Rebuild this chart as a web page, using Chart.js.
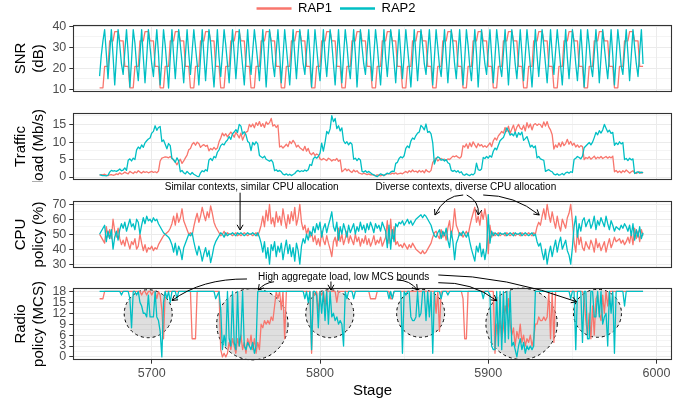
<!DOCTYPE html>
<html>
<head>
<meta charset="utf-8">
<script src="https://cdn.jsdelivr.net/npm/chart.js@4.4.1/dist/chart.umd.min.js"></script>
<style>
  html, body { margin: 0; padding: 0; background: #fff; }
  #wrap { position: relative; width: 689px; height: 404px; overflow: hidden; }
  #wrap canvas { position: absolute; left: 0; }
</style>
</head>
<body>
<div id="wrap">
  <canvas id="snrChart" width="689" height="100" style="top:-6px"></canvas>
  <canvas id="trafficChart" width="689" height="88" style="top:94px"></canvas>
  <canvas id="cpuChart" width="689" height="88" style="top:182px"></canvas>
  <canvas id="mcsChart" width="689" height="134" style="top:270px"></canvas>
</div>
<script>
const firstStage = 5669;

// SNR (dB), one value per stage
const snrRap1 = [
  10.6,10.6,10.6,20.8,20.8,20.8,33,33,33,37.4,37.4,37.4,33,33,33,20.8,20.8,20.8,
  10.6,10.6,10.6,20.8,20.8,20.8,33,33,33,37.4,37.4,37.4,33,33,33,20.8,20.8,20.8,
  10.6,10.6,10.6,20.8,20.8,20.8,33,33,33,37.4,37.4,37.4,33,33,33,20.8,20.8,20.8,
  10.6,10.6,10.6,20.8,20.8,20.8,33,33,33,37.4,37.4,37.4,33,33,33,20.8,20.8,20.8,
  10.6,10.6,10.6,20.8,20.8,20.8,33,33,33,37.4,37.4,37.4,33,33,33,20.8,20.8,20.8,
  10.6,10.6,10.6,20.8,20.8,20.8,33,33,33,37.4,37.4,37.4,33,33,33,20.8,20.8,20.8,
  10.6,10.6,10.6,20.8,20.8,20.8,33,33,33,37.4,37.4,37.4,33,33,33,20.8,20.8,20.8,
  10.6,10.6,10.6,20.8,20.8,20.8,33,33,33,37.4,37.4,37.4,33,33,33,20.8,20.8,20.8,
  10.6,10.6,10.6,20.8,20.8,20.8,33,33,33,37.4,37.4,37.4,33,33,33,20.8,20.8,20.8,
  10.6,10.6,10.6,20.8,20.8,20.8,33,33,33,37.4,37.4,37.4,33,33,33,20.8,20.8,20.8,
  10.6,10.6,10.6,20.8,20.8,20.8,33,33,33,37.4,37.4,37.4,33,33,33,20.8,20.8,20.8,
  10.6,10.6,10.6,20.8,20.8,20.8,33,33,33,37.4,37.4,37.4,33,33,33,20.8,20.8,20.8,
  10.6,10.6,10.6,20.8,20.8,20.8,33,33,33,37.4,37.4,37.4,33,33,33,20.8,20.8,20.8,
  10.6,10.6,10.6,20.8,20.8,20.8,33,33,33,37.4,37.4,37.4,33,33,33,20.8,20.8,20.8,
  10.6,10.6,10.6,20.8,20.8,20.8,33,33,33,37.4,37.4,37.4,33,33,33,20.8,20.8,20.8,
  10.6,10.6,10.6,20.8,20.8,20.8,33,33,33,37.4,37.4,37.4,33,33,33,20.8,20.8,20.8,
  10.6,10.6,10.6,20.8,20.8,20.8,33,33,33,37.4,37.4,37.4,33,33,33,20.8,20.8,20.8,
  10.6,10.6,10.6,20.8,20.8,20.8,33,33,33,37.4,37.4,37.4,33,33,33,20.8,20.8,20.8
];
const snrRap2 = [
  16.2,26,33,38.4,27, 15,27,38.4,26,
  12,25,38.4,31,22, 17,28,38.4,27,
  11,24,38.4,32,21, 14,26,38.4,25,
  13,25,38.4,30,22, 16,28,38.4,27,
  12,24,38.4,31,21, 10.5,25,38.4,26,
  15,27,38.4,31,23, 13,26,38.4,27,
  17,28,38.4,30,22, 12,25,38.4,26,
  14,26,38.4,32,21, 11,24,38.4,25,
  16,27,38.4,31,22, 13,26,38.4,27,
  15,26,38.4,30,21, 12,25,38.4,26,
  17,28,38.4,31,23, 14,26,38.4,25,
  11,24,38.4,32,22, 16,28,38.4,27,
  13,25,38.4,30,21, 12,25,38.4,26,
  15,27,38.4,31,22, 17,28,38.4,27,
  11,24,38.4,30,21, 14,26,38.4,25,
  16,27,38.4,32,22, 12,25,38.4,26,
  13,26,38.4,31,21, 15,27,38.4,27,
  11,24,38.4,30,22, 17,28,38.4,26,
  14,26,38.4,31,21, 12,25,38.4,25,
  16,27,38.4,32,23, 13,26,38.4,27,
  15,26,38.4,30,21, 11,24,38.4,26,
  14,26,38.4,31,22, 17,28,38.4,27,
  12,25,38.4,30,21, 16,27,38.4,25,
  13,25,38.4,32,22, 15,27,38.4,26,
  12,24,38.4,31,21, 14,26,38.4,27,
  11,24,38.4,30,22, 17,28,38.4,26,
  13,25,38.4,31,21, 16,27,38.4,25,
  12,25,38.4,32,22, 15,26,38.4,27,
  14,26,38.4,30,21, 11,24,38.4,26,
  16,27,38.4,31,22, 13,25,38.4,27,
  17,28,38.4,30,21, 12,25,38.4,25,
  15,26,38.4,32,22, 14,26,38.4,26,
  11,24,38.4,31,21, 16,27,38.4,27,
  13,25,38.4,30,22, 15,26,38.4,26,
  12,25,38.4,31,21, 17,28,38.4,27,
  14,26,38.4,30,22, 16,28,38.4,22
];

// Traffic load (Mb/s)
const trafficRap1 = [
  0.5,0.7,0.6,0.8,0.5,0.4,0.6,0.7,0.5,0.6,
  0.9,0.7,1.2,0.8,1.0,1.4,1.1,0.9,1.6,1.3,
  1.0,1.5,1.2,1.8,1.4,1.1,1.6,1.3,1.5,1.2,
  1.4,1.6,1.3,1.5,1.2,1.7,4.6,5.4,5.6,5.8,
  5.7,5.5,5.9,5.4,4.8,4.3,3.5,4.4,5.1,3.9,
  4.6,5.5,6.3,7.8,8.2,9.4,9.9,9.1,10.0,9.6,
  8.5,9.0,9.3,8.8,9.1,7.5,8.2,7.8,8.5,7.9,
  8.3,10.1,11.2,12.6,11.8,12.4,11.5,12.2,12.9,12.3,
  11.4,12.8,12.1,11.2,12.6,10.6,11.8,12.9,13.1,15.1,
  14.4,15.2,14.1,15.6,14.8,15.9,14.5,15.3,14.2,15.8,
  15.1,15.6,16.8,14.6,15.0,14.2,14.9,8.6,8.9,8.3,
  8.8,9.4,8.7,10.2,9.6,10.5,9.8,8.6,9.1,8.4,
  8.0,7.6,8.8,7.4,8.2,6.8,6.4,7.0,6.2,6.6,
  6.3,5.2,4.9,5.3,5.0,4.7,5.4,5.1,4.6,5.0,
  4.8,5.3,4.5,4.9,1.5,1.9,2.4,1.8,2.2,1.6,
  1.3,2.0,1.5,1.8,1.2,1.0,0.8,1.1,0.9,0.7,
  0.9,0.6,0.7,0.5,0.4,0.6,0.5,0.3,0.6,0.4,
  0.7,0.9,1.0,0.8,1.1,0.9,1.2,0.8,1.0,1.1,
  0.9,1.3,1.6,1.2,1.8,1.4,2.0,1.5,1.7,1.3,
  1.9,1.4,1.8,1.2,2.1,1.6,1.4,1.9,4.2,4.8,
  5.5,4.6,5.0,5.3,4.9,5.1,4.7,5.2,5.0,5.5,
  6.0,5.8,6.1,5.7,5.4,5.9,9.0,8.6,9.5,8.2,
  9.8,8.7,10.1,9.2,8.4,9.6,8.9,9.3,8.6,9.0,
  8.5,9.1,9.8,8.7,10.4,11.2,10.6,11.8,12.4,13.1,
  12.6,14.2,13.0,14.6,12.5,13.8,14.9,12.9,14.3,15.1,
  14.0,13.6,14.8,13.2,15.6,14.1,15.2,13.5,15.0,15.3,
  14.8,15.2,15.0,14.2,15.8,14.6,15.9,14.3,13.5,12.1,
  8.0,9.2,8.5,9.8,8.7,10.1,9.0,9.6,10.8,9.4,
  10.2,9.1,9.7,8.6,9.2,8.5,9.0,8.7,5.0,5.6,
  5.3,5.8,5.1,5.5,6.0,5.2,5.7,5.4,5.9,5.3,
  5.6,5.9,5.4,5.8,5.5,6.0,1.5,1.9,1.3,1.7,
  1.2,1.8,1.4,2.0,1.6,1.1,1.5,1.8,1.2,1.0,
  1.3,1.5,1.1,1.4
];
const trafficRap2 = [
  0.7,0.5,0.4,0.4,0.3,0.5,1.4,1.9,1.7,1.8,
  1.6,1.9,2.3,1.8,2.0,2.6,1.9,4.8,5.2,4.6,
  5.4,5.0,7.8,8.6,8.1,9.2,8.5,9.8,10.4,10.9,
  11.2,12.6,13.1,14.7,13.4,14.2,14.5,10.2,10.6,9.4,
  8.1,9.6,9.0,5.3,5.0,4.2,5.5,4.6,1.5,1.9,
  1.2,0.9,1.6,1.1,0.7,1.3,0.8,0.5,0.2,0.1,
  1.2,1.8,1.5,2.1,1.7,4.9,5.3,4.7,5.9,5.5,
  7.1,7.8,9.0,9.5,9.2,10.1,10.6,11.6,10.8,12.4,
  12.9,13.6,12.8,15.1,14.6,12.3,13.0,12.1,10.2,9.8,
  7.6,9.9,9.2,10.1,9.5,6.2,5.8,5.5,6.0,5.1,
  4.8,4.5,4.9,4.2,1.8,2.1,1.6,1.9,1.5,0.8,
  0.6,0.9,0.5,0.8,0.4,0.7,1.0,1.6,1.9,1.5,
  1.8,1.6,2.0,1.7,2.1,3.6,3.3,5.2,5.8,5.4,
  5.9,6.8,9.7,7.4,9.9,13.1,12.4,13.8,17.6,15.9,
  16.8,13.9,14.7,13.2,14.1,10.4,9.6,10.1,9.2,9.9,
  9.4,5.1,5.4,4.7,5.3,4.9,1.6,1.4,1.8,1.3,
  1.6,1.2,0.8,0.6,0.3,0.1,0.5,0.9,0.7,0.4,
  0.8,1.1,0.9,1.4,1.7,1.5,3.9,4.2,5.3,5.8,
  5.5,6.1,8.2,8.9,8.4,10.3,11.2,10.8,11.9,12.6,
  12.9,14.8,14.3,13.5,15.2,12.8,13.1,12.4,9.8,3.7,
  5.2,5.8,5.5,4.8,5.1,4.6,5.0,4.1,3.8,1.9,
  1.6,1.9,1.4,1.8,1.2,1.5,0.7,0.5,0.9,0.6,
  0.4,0.8,0.6,1.1,4.0,2.1,1.9,2.3,5.6,5.3,
  5.9,5.4,6.1,5.7,7.4,8.3,7.8,9.1,10.4,10.9,
  11.3,12.6,14.1,13.2,12.0,12.4,11.8,12.9,11.4,12.7,
  12.1,12.9,10.5,11.0,11.6,10.2,8.6,9.1,8.4,8.9,
  5.5,5.9,5.2,5.0,4.8,1.6,1.9,2.1,1.7,1.5,
  0.8,0.6,0.9,0.5,0.7,1.0,0.6,1.2,1.4,1.1,
  1.5,1.3,5.0,5.4,5.9,5.6,5.2,6.0,8.4,8.9,
  9.4,9.9,9.2,10.0,11.3,12.8,12.1,13.3,12.6,13.5,
  15.1,14.0,12.9,13.4,12.5,12.8,9.1,9.8,9.3,10.1,
  9.5,9.9,5.0,5.3,4.7,5.4,4.9,5.2,1.0,1.3,
  1.5,1.1,1.4,1.2
];

// CPU policy (%)
const cpuRap1 = [
  50,48,46,44,55,48,53,47,60,52,
  48,54,47,43,46,42,48,44,40,45,
  43,47,40,42,50,44,39,43,38,41,
  40,42,39,41,40,43,45,47,49,50,
  51,52,54,57,62,56,64,58,61,67,
  59,56,53,50,51,49,55,60,64,58,
  62,68,63,59,65,61,69,64,58,55,
  53,51,49,50,52,49,51,50,50,49,
  50,51,49,50,49,50,51,50,49,50,
  50,49,50,51,49,52,56,62,55,66,
  59,70,57,61,55,65,58,62,56,67,
  60,54,63,57,65,59,68,56,61,70,
  58,53,56,50,54,48,51,45,49,43,
  47,42,52,46,43,49,44,40,35,45,
  48,42,54,45,50,43,47,52,44,49,
  46,43,50,45,48,42,47,44,49,43,
  47,42,45,49,43,46,44,48,42,45,
  48,59,44,60,47,55,43,45,42,43,
  41,44,42,40,43,41,44,42,40,39,
  38,37,39,37,38,40,42,44,48,51,
  52,49,47,53,48,51,46,54,59,48,
  55,67,56,53,49,51,48,50,52,49,
  55,60,64,68,58,62,56,65,60,67,
  60,37,56,48,51,49,50,51,49,50,
  50,49,51,50,49,50,51,49,50,50,
  49,51,50,49,50,51,50,49,51,50,
  55,58,56,62,67,60,70,63,58,65,
  59,54,62,56,52,60,57,54,61,64,
  70,59,45,38,52,43,48,41,39,45,
  42,40,46,43,38,47,41,44,39,42,
  45,38,43,47,41,44,48,45,46,47,
  44,46,43,45,48,44,51,43,54,47,
  52,45,53,49
];
const cpuRap2 = [
  50,52,54,56,45,52,47,53,40,48,
  52,46,53,57,54,58,52,56,60,55,
  57,53,60,58,50,56,61,57,62,59,
  60,58,61,59,60,57,55,53,51,50,
  49,48,46,43,38,44,36,42,39,33,
  41,44,47,50,49,51,45,40,36,42,
  38,32,37,41,35,39,31,36,42,45,
  47,49,51,50,48,51,49,50,50,51,
  50,49,51,50,51,50,49,50,51,50,
  50,51,50,49,51,48,44,38,45,34,
  41,30,43,39,45,35,42,38,44,33,
  40,46,37,43,35,41,32,44,39,30,
  42,47,44,50,46,52,49,55,51,57,
  53,58,48,54,57,51,56,60,65,55,
  52,58,46,55,50,57,53,48,56,51,
  54,57,50,55,52,58,53,56,51,57,
  53,58,55,51,57,54,56,52,58,55,
  52,41,56,40,53,45,57,55,58,57,
  59,56,58,60,57,59,56,58,60,61,
  62,63,61,63,62,60,58,56,52,49,
  48,51,53,47,52,49,54,46,41,52,
  45,33,44,47,51,49,52,50,48,51,
  45,40,36,32,42,38,44,35,40,33,
  40,63,44,52,49,51,50,49,51,50,
  50,51,49,50,51,50,49,51,50,50,
  51,49,50,51,50,49,50,51,49,50,
  45,42,44,38,33,40,30,37,42,35,
  41,46,38,44,48,40,43,46,39,36,
  30,41,55,62,48,57,52,59,61,55,
  58,60,54,57,62,53,59,56,61,58,
  55,62,57,53,59,56,52,55,54,53,
  56,54,57,55,52,56,49,57,46,53,
  48,55,47,51
];

// Radio policy (MCS)
const mcsRap1 = [
  16,16,16,18,18,18,18,18,18,18,
  18,18,18,18,18,18,18,18,18,18,
  18,18,18,18,18,17,18,18,17,18,
  18,17,18,18,16,18,17,13,5,18,
  18,18,18,18,18,18,18,18,18,18,
  18,18,18,18,18,5,5,5,18,18,
  18,18,18,18,18,18,18,18,18,18,
  18,18,2,0,1,0,1,4,2,5,
  3,1,5,3,6,2,4,1,5,3,
  6,2,5,1,4,2,9,8,10,9,
  10,9,11,10,14,18,16,18,13,18,
  5,18,18,18,18,18,18,18,18,18,
  18,18,18,18,18,18,1,18,17,18,
  12,18,17,18,14,18,18,18,18,18,
  18,15,18,18,18,18,18,18,18,18,
  18,18,18,18,18,18,18,18,18,18,
  18,16,16,16,16,18,18,18,18,18,
  18,18,18,16,16,18,18,18,18,18,
  18,18,18,18,18,18,18,18,18,18,
  18,18,18,18,18,18,18,18,18,18,
  12,18,7,18,18,18,18,18,18,18,
  18,18,18,18,18,18,16,5,5,18,
  18,18,18,18,18,18,18,18,18,18,
  18,18,18,18,18,1,9,6,10,5,
  8,14,12,16,9,6,8,3,7,5,
  9,4,6,3,5,4,6,3,5,9,
  9,11,10,10,11,10,11,18,5,18,
  4,18,18,18,18,18,18,18,18,18,
  18,18,18,18,18,18,18,18,16,10,
  6,12,5,14,6,16,17,12,10,17,
  12,18,14,18,18,18,18,18,18,18,
  18,18,18,18,18,18,18,18,18,18,
  18,18,18,18
];
const mcsRap2 = [
  18,18,18,18,18,18,18,18,18,18,
  18,18,18,17,18,18,18,18,16,8,
  18,18,17,18,15,14,12,12,11,17,
  11,11,11,18,11,10,7,0,15,18,
  16,18,15,18,18,18,16,18,18,18,
  18,18,18,18,18,18,18,18,18,18,
  18,18,18,18,18,18,18,18,18,16,
  17,18,13,2,6,3,18,5,3,18,
  4,2,18,3,6,18,3,2,4,3,
  2,4,1,3,18,18,18,18,18,18,
  18,18,18,18,18,18,18,18,18,18,
  18,18,18,18,18,18,18,18,18,18,
  18,18,16,18,15,18,2,18,18,17,
  8,18,12,18,10,18,9,18,11,12,
  10,11,9,10,9,3,18,16,18,18,
  18,16,18,18,18,18,18,18,18,18,
  18,18,18,18,18,18,18,18,18,18,
  18,18,16,18,16,18,18,18,18,18,
  1,18,17,18,18,11,10,10,11,18,
  11,12,18,18,10,18,11,18,1,18,
  18,18,18,16,18,18,18,17,18,18,
  18,18,18,18,18,18,18,18,18,18,
  18,18,18,18,18,18,18,18,16,18,
  18,18,17,3,2,2,18,3,18,2,
  18,4,18,5,18,3,4,2,0,3,
  5,2,4,1,3,2,3,2,3,18,
  18,18,18,18,18,18,18,18,18,18,
  18,18,18,18,18,18,18,18,18,18,
  16,18,18,2,18,18,18,4,18,18,
  5,5,18,18,11,11,18,11,18,9,
  11,12,3,18,12,18,1,18,18,18,
  18,18,14,18,18,18,18,18,18,18,
  18,18,18,18
];

const stages = snrRap1.map((_, i) => firstStage + i);

// annotations, in the data units of the panel that draws them
const cpuNotes = {
  texts: [
    { x: 5759.4, y: 81.36, text: 'Similar contexts, similar CPU allocation' },
    { x: 5886.7, y: 81.36, text: 'Diverse contexts, diverse CPU allocation' }
  ],
  arrows: [
    { from: [5752.5, 77.75], to: [5752.5, 52.81] },
    { from: [5885.1, 76.21], ctrl: [5874.2, 76.21], to: [5868.3, 62.84] },
    { from: [5887.2, 76.21], ctrl: [5894.8, 72.2], to: [5894.1, 62.84] },
    { from: [5897.0, 76.21], ctrl: [5915.7, 76.21], to: [5930.3, 62.84] }
  ],
  circles: []
};
const mcsNotes = {
  texts: [{ x: 5814.1, y: 21.89, text: 'High aggregate load, low MCS bounds' }],
  arrows: [
    { from: [5756.6, 21.43], ctrl: [5729.6, 21.56], to: [5712.1, 15.51] },
    { from: [5772.7, 20.68], ctrl: [5766.7, 20.33], to: [5763.3, 18.40] },
    { from: [5806.5, 20.74], to: [5806.5, 18.40] },
    { from: [5845.6, 21.15], ctrl: [5853.5, 21.15], to: [5857.9, 18.40] },
    { from: [5870.3, 20.41], ctrl: [5890.6, 20.68], to: [5905.0, 15.46] },
    { from: [5870.3, 22.53], ctrl: [5910.5, 22.33], to: [5952.5, 15.18] }
  ],
  // centre in (stage, MCS), radius in stages
  circles: [
    { x: 5697.9, y: 11.88, r: 14.26 },
    { x: 5759.8, y: 8.99, r: 21.2 },
    { x: 5805.8, y: 11.88, r: 14.26 },
    { x: 5859.8, y: 11.99, r: 14.26 },
    { x: 5919.8, y: 9.10, r: 21.2 },
    { x: 5964.9, y: 11.99, r: 14.26 }
  ]
};

const red = '#F8766D';
const teal = '#00BFC4';
const stageMin = 5653.2, stageMax = 6009.2;
const axisWidth = 73, rightGap = 17;

Chart.defaults.font.family = "'Liberation Sans', Arial, Helvetica, sans-serif";

function isMajor(v, step) {
  return Math.abs(v / step - Math.round(v / step)) < 1e-6;
}

function xAxis(show) {
  return {
    type: 'linear', min: stageMin, max: stageMax,
    ticks: {
      display: show, stepSize: 50, includeBounds: false, autoSkip: false, maxRotation: 0,
      color: '#4D4D4D', font: { size: 12.5 }, padding: 2,
      callback: v => isMajor(v, 100) ? String(v) : ''
    },
    grid: {
      color: '#EBEBEB',
      lineWidth: c => (c.tick && isMajor(c.tick.value, 100)) ? 1 : 0.55,
      drawTicks: show, tickLength: 3.7,
      tickColor: c => (c.tick && isMajor(c.tick.value, 100)) ? '#333333' : 'rgba(0,0,0,0)'
    },
    border: { display: false },
    title: { display: show, text: 'Stage', color: '#000', font: { size: 15 }, padding: { top: 0, bottom: 4.3 } },
    afterFit: s => { s.paddingLeft = 0; s.paddingRight = 0; s.height = show ? 44 : 0; }
  };
}

function yAxis(title, min, max, major, minor) {
  return {
    type: 'linear', min, max,
    ticks: {
      stepSize: minor, includeBounds: false, autoSkip: false,
      color: '#4D4D4D', font: { size: 12.5 }, padding: 3,
      callback: v => isMajor(v, major) ? String(Math.round(v)) : ''
    },
    grid: {
      color: '#EBEBEB',
      lineWidth: c => (c.tick && isMajor(c.tick.value, major)) ? 1 : 0.55,
      tickLength: 3.7,
      tickColor: c => (c.tick && isMajor(c.tick.value, major)) ? '#333333' : 'rgba(0,0,0,0)'
    },
    border: { display: false },
    title: { display: true, text: title, color: '#000', font: { size: 15, lineHeight: 1.17 }, padding: { top: 12.2, bottom: 0 } },
    afterFit: s => { s.width = axisWidth; s.paddingTop = 0; s.paddingBottom = 0; }
  };
}

const panelFrame = {
  id: 'panelFrame',
  afterDatasetsDraw(chart) {
    const a = chart.chartArea, ctx = chart.ctx;
    ctx.save();
    ctx.strokeStyle = '#333333';
    ctx.lineWidth = 1.1;
    ctx.strokeRect(Math.round(a.left) + 0.5, Math.round(a.top) + 0.5,
      Math.round(a.right - a.left) - 1, Math.round(a.bottom - a.top) - 1);
    ctx.restore();
  }
};

function notesPlugin(notes) {
  const pt = (chart, p) => ({ x: chart.scales.x.getPixelForValue(p[0]), y: chart.scales.y.getPixelForValue(p[1]) });
  return {
    id: 'notes',
    beforeDatasetsDraw(chart) {
      const ctx = chart.ctx;
      notes.circles.forEach(c => {
        const p = pt(chart, [c.x, c.y]);
        const r = chart.scales.x.getPixelForValue(c.x + c.r) - p.x;
        ctx.save();
        ctx.beginPath();
        ctx.arc(p.x, p.y, r, 0, Math.PI * 2);
        ctx.fillStyle = 'rgba(150,150,150,0.3)';
        ctx.fill();
        ctx.setLineDash([3, 3]);
        ctx.strokeStyle = '#000';
        ctx.lineWidth = 1;
        ctx.stroke();
        ctx.restore();
      });
    },
    afterDraw(chart) {
      const ctx = chart.ctx;
      ctx.save();
      ctx.fillStyle = '#000';
      ctx.font = "10px 'Liberation Sans', Arial, sans-serif";
      ctx.textAlign = 'center';
      ctx.textBaseline = 'middle';
      notes.texts.forEach(t => {
        const p = pt(chart, [t.x, t.y]);
        ctx.fillText(t.text, p.x, p.y);
      });
      ctx.strokeStyle = '#000';
      ctx.lineWidth = 1;
      notes.arrows.forEach(a => {
        const p0 = pt(chart, a.from), p2 = pt(chart, a.to);
        const c = a.ctrl ? pt(chart, a.ctrl) : null;
        ctx.beginPath();
        ctx.moveTo(p0.x, p0.y);
        if (c) ctx.quadraticCurveTo(c.x, c.y, p2.x, p2.y); else ctx.lineTo(p2.x, p2.y);
        ctx.stroke();
        const from = c || p0;
        const ang = Math.atan2(p2.y - from.y, p2.x - from.x);
        const len = 6, spread = Math.PI / 6;
        ctx.beginPath();
        ctx.moveTo(p2.x - len * Math.cos(ang - spread), p2.y - len * Math.sin(ang - spread));
        ctx.lineTo(p2.x, p2.y);
        ctx.lineTo(p2.x - len * Math.cos(ang + spread), p2.y - len * Math.sin(ang + spread));
        ctx.stroke();
      });
      ctx.restore();
    }
  };
}

const lineStyle = { borderWidth: 1.3, pointRadius: 0, pointHoverRadius: 0, tension: 0, fill: false, borderJoinStyle: 'round' };

function makeChart(id, cfg) {
  return new Chart(document.getElementById(id), {
    type: 'line',
    data: {
      labels: stages,
      datasets: [
        Object.assign({ label: 'RAP1', data: cfg.rap1, borderColor: red, backgroundColor: red, order: 1 }, lineStyle),
        Object.assign({ label: 'RAP2', data: cfg.rap2, borderColor: teal, backgroundColor: teal, order: 0 }, lineStyle)
      ]
    },
    options: {
      responsive: false,
      devicePixelRatio: 1,
      animation: false,
      events: [],
      layout: { padding: { left: 0, right: rightGap, top: cfg.padTop, bottom: cfg.padBottom } },
      scales: { x: xAxis(cfg.showX), y: cfg.y },
      plugins: {
        tooltip: { enabled: false },
        legend: cfg.legend ? {
          display: true, position: 'top', align: 'center',
          labels: {
            usePointStyle: true, pointStyle: 'line', pointStyleWidth: 35,
            color: '#000', font: { size: 13 }, padding: 8,
            sort: (a, b) => a.datasetIndex - b.datasetIndex,
            generateLabels: chart => Chart.defaults.plugins.legend.labels.generateLabels(chart)
              .map(l => Object.assign(l, { lineWidth: 2.6 }))
          }
        } : { display: false }
      }
    },
    plugins: [panelFrame].concat(cfg.notes ? [notesPlugin(cfg.notes)] : [])
  });
}

makeChart('snrChart', {
  rap1: snrRap1, rap2: snrRap2, legend: true, showX: false, padTop: 0, padBottom: 2,
  y: yAxis(['SNR', '(dB)'], 8.6, 40.6, 10, 5)
});
makeChart('trafficChart', {
  rap1: trafficRap1, rap2: trafficRap2, showX: false, padTop: 19, padBottom: 2,
  y: yAxis(['Traffic', 'load (Mb/s)'], -0.86, 18.36, 5, 2.5)
});
makeChart('cpuChart', {
  rap1: cpuRap1, rap2: cpuRap2, showX: false, padTop: 19, padBottom: 2, notes: cpuNotes,
  y: yAxis(['CPU', 'policy (%)'], 27.4, 72.2, 10, 5)
});
makeChart('mcsChart', {
  rap1: mcsRap1, rap2: mcsRap2, showX: true, padTop: 18, padBottom: 0, notes: mcsNotes,
  y: yAxis(['Radio', 'policy (MCS)'], -0.85, 18.95, 3, 1.5)
});
</script>
</body>
</html>
